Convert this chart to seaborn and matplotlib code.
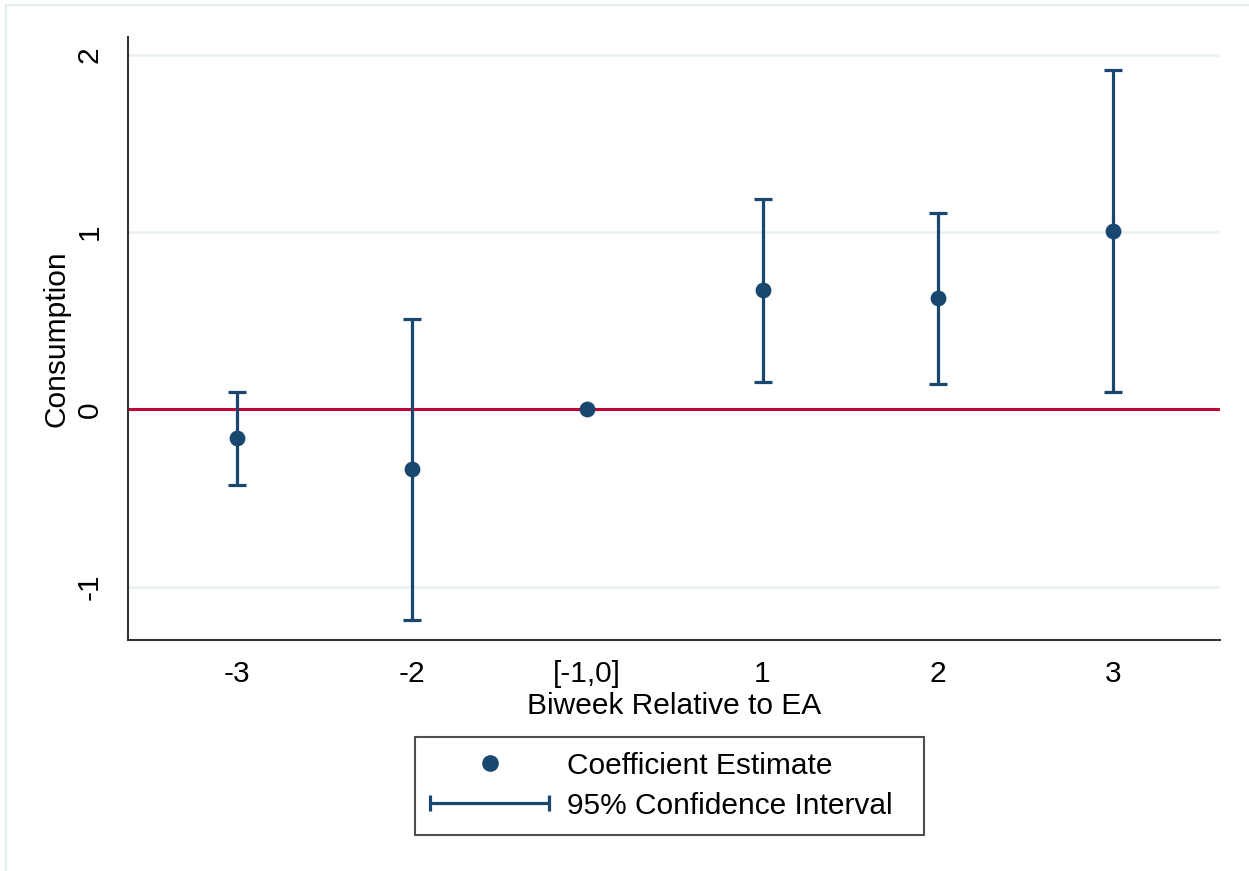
import numpy as np
import pandas as pd
import matplotlib
matplotlib.use("Agg")
import matplotlib.pyplot as plt
from matplotlib.lines import Line2D
from matplotlib.legend_handler import HandlerLine2D
import seaborn as sns

# Event-study estimates
periods = ["-3", "-2", "[-1,0]", "1", "2", "3"]
estimate = [-0.161, -0.334, 0.0, 0.675, 0.630, 1.008]
ci_low = [-0.426, -1.190, 0.0, 0.156, 0.145, 0.098]
ci_high = [0.096, 0.510, 0.0, 1.188, 1.109, 1.914]
y_ticks = [-1, 0, 1, 2]

navy = "#1a476f"
cranberry = "#c10534"
grid_col = "#eaf2f3"

sns.set_style("white")
plt.rcParams["font.family"] = ["Liberation Sans", "DejaVu Sans"]
plt.rcParams["font.size"] = 21.5
plt.rcParams["text.color"] = "black"
plt.rcParams["axes.labelcolor"] = "black"

df = pd.DataFrame({"pos": np.arange(len(periods)), "period": periods,
                   "est": estimate, "lo": ci_low, "hi": ci_high})
has_ci = df["hi"] > df["lo"]

fig = plt.figure(figsize=(12.49, 8.71), dpi=100)
ax = fig.add_axes([128 / 1249, 1 - 640 / 871, (1220 - 128) / 1249, (640 - 37) / 871])

# light grid and zero line
for yv in y_ticks:
    ax.axhline(yv, color=grid_col, lw=2, zorder=0)
ax.axhline(0, color=cranberry, lw=2.2, zorder=1)

# confidence intervals
sub = df[has_ci]
ax.errorbar(sub["pos"], sub["est"],
            yerr=[sub["est"] - sub["lo"], sub["hi"] - sub["est"]],
            fmt="none", ecolor=navy, elinewidth=2.3, capsize=6.2, capthick=2.3, zorder=2)

# point estimates
sns.scatterplot(data=df, x="pos", y="est", color=navy, s=130, edgecolor=navy,
                linewidth=0, zorder=3, ax=ax, legend=False)

ax.set_xlim(-0.62, 5.61)
ax.set_ylim(-1.30, 2.10)
ax.set_xticks(df["pos"])
ax.set_xticklabels(periods)
ax.set_yticks(y_ticks)
ax.set_yticklabels([str(v) for v in y_ticks])
ax.tick_params(axis="both", direction="out", length=8.5, width=1.5, color="#333333",
               labelsize=21.5, labelcolor="black")
ax.tick_params(axis="x", pad=6)
ax.tick_params(axis="y", pad=9)
for lab in ax.get_yticklabels():
    lab.set_rotation(90)
    lab.set_va("center")
    lab.set_ha("right")

ax.set_xlabel("Biweek Relative to EA", fontsize=21.5, labelpad=3)
ax.set_ylabel("Consumption", fontsize=21.5, labelpad=4)

for side in ["top", "right"]:
    ax.spines[side].set_visible(False)
for side in ["left", "bottom"]:
    ax.spines[side].set_color("#333333")
    ax.spines[side].set_linewidth(1.5)

# legend
dot = Line2D([], [], marker="o", ls="none", color=navy, markersize=11)
ci = Line2D([], [], marker="|", ls="-", color=navy, lw=2.3, markersize=12, mew=2.3)
leg = fig.legend([dot, ci], ["Coefficient Estimate", "95% Confidence Interval  "],
                 handler_map={dot: HandlerLine2D(numpoints=1),
                              ci: HandlerLine2D(numpoints=2, marker_pad=0)},
                 loc="upper left", bbox_to_anchor=(415 / 1249, 1 - 737 / 871),
                 fontsize=21.5, handlelength=4.0, handletextpad=0.6,
                 labelspacing=0.4, borderpad=0.5, borderaxespad=0,
                 fancybox=False, frameon=True)
leg.get_frame().set_edgecolor("#222222")
leg.get_frame().set_linewidth(1.5)

# faint outer frame (top and left edges visible in the original)
fig.add_artist(Line2D([6 / 1249, 6 / 1249], [0, 1 - 5 / 871], color="#e6eef0", lw=1.5))
fig.add_artist(Line2D([6 / 1249, 1], [1 - 5 / 871, 1 - 5 / 871], color="#e6eef0", lw=1.5))

fig.savefig("out.png", dpi=100)
